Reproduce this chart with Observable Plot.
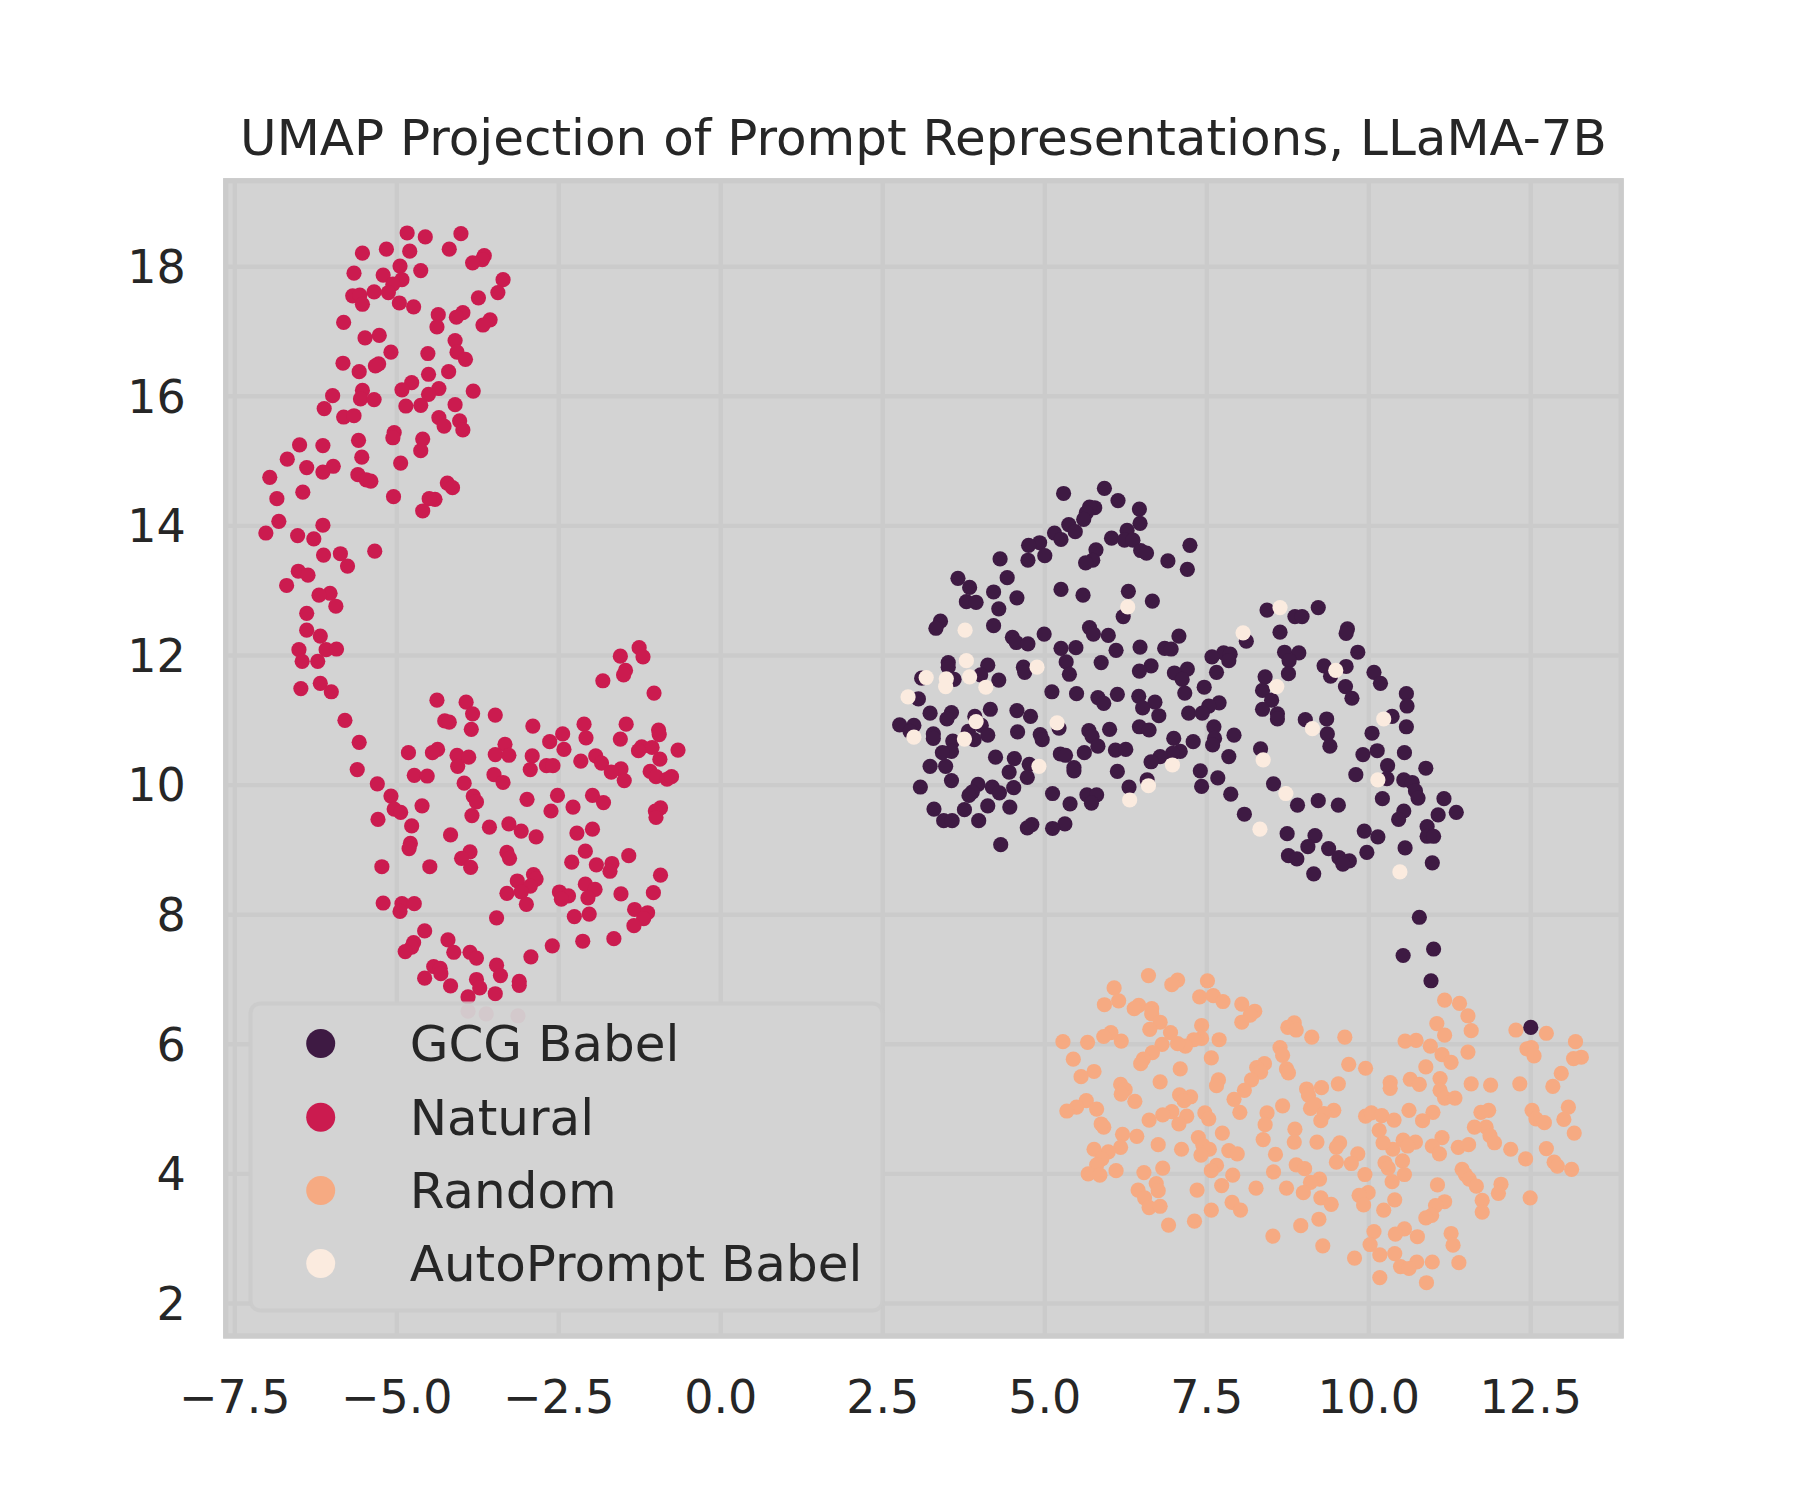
<!DOCTYPE html>
<html>
<head>
<meta charset="utf-8">
<script src="https://cdn.jsdelivr.net/npm/d3@7"></script>
<script src="https://cdn.jsdelivr.net/npm/@observablehq/plot@0.6"></script>
<style>html,body{margin:0;padding:0;background:#fff}svg{display:block}</style>
</head>
<body>
<div id="chart"></div>
<script>
const titleText = "UMAP Projection of Prompt Representations, LLaMA-7B";
const labels = ["GCG Babel", "Natural", "Random", "AutoPrompt Babel"];
const colors = ["#3e1a43", "#cb1b4f", "#f6aa82", "#fbebdf"];
const xTicks = [-7.5, -5, -2.5, 0, 2.5, 5, 7.5, 10, 12.5];
const yTicks = [2, 4, 6, 8, 10, 12, 14, 16, 18];

const natural = [[-4.84,18.52],[-4.56,18.46],[-4.01,18.51],[-5.53,18.21],[-5.16,18.27],[-4.80,18.24],[-4.19,18.27],[-3.65,18.17],[-3.68,18.11],[-3.83,18.06],[-4.95,18.01],[-4.63,17.94],[-5.66,17.90],[-5.21,17.87],[-4.92,17.80],[-3.36,17.80],[-5.06,17.73],[-3.44,17.60],[-3.74,17.52],[-5.68,17.55],[-5.57,17.56],[-5.35,17.61],[-5.13,17.60],[-5.53,17.42],[-4.96,17.44],[-4.74,17.38],[-4.36,17.26],[-3.98,17.29],[-4.08,17.22],[-4.38,17.07],[-3.56,17.18],[-3.67,17.10],[-5.82,17.14],[-5.27,16.94],[-5.49,16.90],[-4.10,16.86],[-4.07,16.68],[-3.94,16.57],[-5.09,16.68],[-4.52,16.66],[-5.83,16.51],[-5.28,16.50],[-5.33,16.47],[-5.58,16.38],[-4.20,16.38],[-4.51,16.34],[-4.77,16.21],[-4.92,16.10],[-4.35,16.12],[-4.51,16.03],[-3.82,16.08],[-5.53,16.09],[-5.99,16.01],[-5.56,15.96],[-5.35,15.95],[-4.86,15.85],[-4.63,15.86],[-4.10,15.87],[-6.12,15.81],[-5.82,15.68],[-5.66,15.70],[-4.35,15.67],[-4.03,15.62],[-4.27,15.54],[-3.98,15.48],[-5.04,15.44],[-5.06,15.36],[-4.60,15.34],[-4.63,15.16],[-5.59,15.32],[-6.50,15.25],[-6.14,15.24],[-6.69,15.03],[-5.54,15.06],[-4.94,14.97],[-6.39,14.90],[-5.98,14.92],[-6.14,14.83],[-6.96,14.75],[-5.60,14.79],[-5.47,14.71],[-5.40,14.69],[-4.22,14.66],[-4.14,14.59],[-6.45,14.52],[-6.85,14.42],[-5.05,14.45],[-4.41,14.41],[-4.50,14.42],[-4.60,14.23],[-6.82,14.07],[-6.14,14.01],[-7.02,13.89],[-6.53,13.85],[-6.28,13.80],[-6.13,13.55],[-5.87,13.57],[-5.34,13.61],[-5.76,13.38],[-6.52,13.30],[-6.37,13.24],[-6.70,13.08],[-6.03,12.96],[-6.20,12.93],[-5.94,12.76],[-6.39,12.65],[-6.39,12.39],[-6.18,12.30],[-6.51,12.09],[-6.09,12.09],[-5.93,12.10],[-6.46,11.91],[-6.22,11.91],[-6.48,11.49],[-6.18,11.57],[-6.01,11.44],[-5.80,11.00],[-5.58,10.66],[-5.61,10.24],[-5.30,10.02],[-5.09,9.83],[-5.04,9.63],[-4.94,9.58],[-5.29,9.47],[-4.61,9.68],[-4.77,9.37],[-4.79,9.10],[-4.81,9.02],[-5.23,8.74],[-4.49,8.74],[-5.21,8.18],[-4.92,8.17],[-4.73,8.17],[-4.95,8.05],[-4.57,7.75],[-4.74,7.57],[-4.77,7.50],[-4.87,7.43],[-4.21,7.61],[-4.12,7.42],[-3.87,7.42],[-3.77,7.33],[-4.43,7.20],[-4.33,7.17],[-4.32,7.09],[-4.57,7.02],[-4.17,6.90],[-3.46,7.22],[-3.40,7.06],[-3.77,7.00],[-3.72,6.87],[-3.11,6.97],[-3.11,6.91],[-3.48,6.78],[-3.90,6.73],[-2.93,7.35],[-2.60,7.52],[-2.13,7.59],[-1.65,7.63],[-1.26,12.12],[-1.55,11.99],[-1.20,11.98],[-1.47,11.77],[-1.50,11.70],[-1.82,11.61],[-1.03,11.42],[-4.38,11.31],[-3.93,11.28],[-3.83,11.10],[-3.48,11.08],[-4.26,10.99],[-4.19,10.97],[-3.85,10.86],[-2.90,10.91],[-2.11,10.94],[-1.46,10.94],[-0.96,10.85],[-0.95,10.78],[-2.44,10.79],[-2.08,10.73],[-1.55,10.71],[-2.64,10.67],[-2.42,10.55],[-3.33,10.63],[-1.22,10.59],[-1.06,10.58],[-1.27,10.53],[-0.66,10.54],[-4.82,10.50],[-4.37,10.55],[-4.45,10.50],[-4.07,10.46],[-3.89,10.43],[-3.48,10.47],[-3.27,10.46],[-2.91,10.45],[-1.93,10.45],[-0.94,10.40],[-2.16,10.37],[-1.84,10.34],[-4.06,10.29],[-2.69,10.30],[-2.59,10.30],[-2.94,10.24],[-1.54,10.25],[-1.69,10.20],[-1.09,10.21],[-1.49,10.07],[-1.00,10.13],[-0.83,10.09],[-0.76,10.13],[-4.73,10.15],[-4.53,10.14],[-3.50,10.16],[-3.36,10.04],[-3.96,10.03],[-3.82,9.83],[-3.77,9.74],[-2.99,9.78],[-2.52,9.84],[-1.98,9.84],[-1.81,9.73],[-2.28,9.66],[-2.62,9.60],[-0.93,9.65],[-1.01,9.60],[-1.00,9.50],[-3.84,9.53],[-3.57,9.35],[-3.27,9.40],[-3.08,9.29],[-2.85,9.20],[-1.98,9.32],[-2.22,9.26],[-4.17,9.23],[-3.30,8.96],[-3.26,8.87],[-3.87,8.97],[-4.00,8.87],[-3.86,8.73],[-2.09,8.98],[-2.30,8.81],[-1.42,8.91],[-1.92,8.77],[-1.68,8.79],[-1.71,8.67],[-0.93,8.61],[-2.89,8.62],[-2.85,8.55],[-3.14,8.52],[-2.94,8.44],[-2.09,8.47],[-1.94,8.39],[-3.30,8.33],[-3.08,8.35],[-2.49,8.35],[-2.35,8.29],[-2.46,8.24],[-2.05,8.26],[-1.54,8.32],[-1.04,8.34],[-3.00,8.16],[-1.33,8.08],[-1.13,8.03],[-1.19,7.94],[-2.26,7.97],[-2.03,8.01],[-3.46,7.95],[-1.34,7.83],[-3.90,6.51],[-3.62,6.47],[-3.13,6.44]];

const random = [[6.60,7.06],[7.05,6.99],[6.96,6.92],[7.51,6.98],[6.07,6.87],[6.14,6.67],[5.92,6.61],[6.45,6.60],[6.38,6.55],[6.65,6.55],[6.65,6.47],[7.39,6.73],[7.60,6.75],[7.75,6.66],[8.04,6.62],[8.24,6.51],[8.17,6.45],[8.04,6.34],[6.78,6.34],[6.62,6.23],[7.42,6.29],[8.85,6.33],[8.75,6.26],[8.88,6.22],[9.12,6.11],[9.63,6.11],[11.17,6.68],[11.40,6.63],[11.53,6.44],[11.05,6.32],[11.17,6.14],[11.58,6.21],[12.27,6.22],[12.74,6.17],[10.56,6.05],[10.73,6.06],[10.95,5.97],[11.53,5.88],[11.13,5.84],[11.27,5.72],[10.88,5.65],[13.19,6.04],[12.51,5.95],[12.44,5.93],[12.55,5.82],[13.28,5.80],[13.16,5.78],[12.97,5.55],[12.84,5.35],[12.33,5.39],[11.88,5.37],[11.58,5.39],[11.10,5.47],[11.10,5.29],[11.17,5.17],[11.33,5.17],[10.64,5.46],[10.78,5.38],[10.33,5.41],[10.33,5.32],[9.95,5.63],[9.69,5.69],[9.53,5.39],[9.27,5.33],[9.04,5.31],[9.07,5.21],[8.63,5.95],[8.67,5.83],[8.73,5.62],[8.76,5.56],[8.39,5.70],[8.27,5.64],[8.33,5.57],[8.19,5.45],[8.08,5.29],[7.92,5.15],[7.68,5.45],[7.65,5.36],[7.57,5.79],[7.69,6.07],[7.42,6.09],[7.30,6.07],[7.17,5.97],[7.05,6.01],[6.94,6.18],[6.81,6.00],[6.66,5.87],[6.52,5.77],[6.48,5.70],[6.18,6.05],[6.02,6.18],[5.91,6.12],[5.66,6.03],[5.28,6.04],[5.44,5.77],[5.76,5.58],[5.56,5.50],[6.17,5.38],[6.24,5.30],[6.18,5.23],[6.39,5.12],[6.78,5.42],[7.09,5.62],[7.08,5.22],[7.25,5.19],[7.15,5.13],[5.64,5.13],[5.49,5.03],[5.34,4.97],[5.80,5.00],[6.96,4.96],[6.82,4.91],[7.19,4.89],[7.47,4.94],[7.53,4.85],[8.01,4.95],[8.43,4.94],[8.67,5.05],[9.10,5.01],[9.17,5.07],[9.46,4.98],[9.31,4.93],[9.26,4.82],[8.40,4.76],[8.86,4.69],[9.95,4.89],[10.04,4.94],[10.20,4.90],[10.39,4.83],[10.62,4.98],[10.99,4.95],[10.83,4.82],[11.73,4.95],[11.85,4.98],[11.81,4.72],[11.63,4.72],[12.52,4.98],[12.58,4.85],[12.71,4.79],[13.08,5.03],[13.01,4.84],[13.17,4.63],[11.87,4.59],[11.94,4.48],[12.19,4.38],[12.74,4.39],[12.42,4.23],[12.86,4.18],[12.91,4.12],[13.13,4.07],[11.13,4.56],[10.98,4.43],[11.09,4.31],[11.38,4.41],[11.54,4.45],[10.72,4.49],[10.53,4.52],[10.60,4.43],[10.37,4.38],[10.22,4.48],[10.16,4.67],[9.83,4.31],[9.55,4.48],[9.50,4.41],[9.20,4.49],[8.85,4.49],[8.37,4.53],[8.56,4.30],[7.74,4.63],[7.37,4.56],[7.44,4.44],[7.54,4.38],[7.41,4.29],[7.84,4.36],[7.97,4.31],[7.11,4.38],[6.75,4.45],[6.61,4.83],[7.07,4.77],[6.42,4.58],[6.20,4.61],[6.17,4.41],[5.98,4.34],[5.76,4.38],[5.91,4.72],[5.87,4.77],[5.88,4.23],[5.80,4.14],[5.67,4.00],[5.85,3.98],[6.10,4.05],[6.53,4.02],[6.82,4.09],[6.72,3.85],[6.75,3.74],[6.44,3.75],[6.54,3.63],[6.61,3.48],[6.78,3.50],[6.91,3.21],[7.31,3.27],[7.57,3.44],[7.35,3.75],[7.73,3.82],[7.90,3.98],[7.65,4.13],[7.57,4.05],[7.89,3.56],[8.02,3.44],[8.26,3.78],[8.73,3.78],[8.53,4.03],[8.88,4.14],[9.01,4.08],[9.24,3.92],[9.10,3.87],[8.99,3.71],[9.26,3.63],[9.42,3.53],[9.23,3.30],[8.95,3.20],[8.52,3.04],[9.29,2.89],[9.50,4.18],[9.73,4.16],[9.94,3.99],[10.25,4.17],[10.30,4.09],[10.52,4.20],[10.55,3.99],[10.36,3.88],[9.99,3.71],[9.85,3.67],[9.92,3.52],[10.40,3.60],[10.23,3.44],[11.44,4.07],[11.49,3.99],[11.55,3.92],[11.66,3.81],[11.06,3.83],[12.04,3.84],[12.00,3.70],[12.49,3.63],[11.75,3.59],[11.75,3.41],[11.17,3.57],[11.03,3.51],[10.97,3.36],[10.88,3.32],[10.08,3.11],[10.55,3.15],[10.41,3.07],[10.75,3.03],[11.27,3.08],[11.30,2.90],[10.02,2.91],[10.17,2.75],[10.40,2.77],[9.78,2.70],[10.74,2.64],[10.49,2.57],[10.62,2.54],[10.98,2.64],[11.39,2.63],[10.17,2.40],[10.89,2.32]];

const gcg = [[5.29,14.50],[5.92,14.58],[6.13,14.39],[6.46,14.26],[6.47,14.04],[5.77,14.28],[5.69,14.29],[5.64,14.20],[5.60,14.10],[5.37,14.02],[5.47,13.91],[5.15,13.89],[5.25,13.79],[6.27,13.93],[6.03,13.81],[6.23,13.78],[6.36,13.78],[6.48,13.62],[6.57,13.58],[7.24,13.70],[4.92,13.74],[4.75,13.70],[5.00,13.54],[4.74,13.47],[4.31,13.49],[5.79,13.63],[5.74,13.47],[5.63,13.43],[6.90,13.46],[7.20,13.33],[3.66,13.19],[4.42,13.20],[3.84,13.05],[4.21,12.98],[5.25,13.02],[5.59,12.93],[6.29,12.99],[4.57,12.89],[3.79,12.83],[3.94,12.82],[6.66,12.84],[4.29,12.72],[6.21,12.60],[3.39,12.53],[3.32,12.42],[4.21,12.46],[5.69,12.43],[5.75,12.33],[4.99,12.33],[5.98,12.31],[7.07,12.30],[4.50,12.28],[4.56,12.20],[4.74,12.18],[5.25,12.11],[5.48,12.12],[6.10,12.08],[6.47,12.13],[6.85,12.11],[6.95,12.10],[8.11,12.22],[7.76,12.04],[7.86,12.02],[7.58,11.98],[7.84,11.92],[3.51,11.89],[5.33,11.90],[5.87,11.89],[4.12,11.85],[3.51,11.82],[6.64,11.84],[7.20,11.79],[6.46,11.76],[4.67,11.82],[4.69,11.74],[5.38,11.71],[7.00,11.73],[7.65,11.74],[4.01,11.70],[3.10,11.65],[3.60,11.63],[4.29,11.62],[7.12,11.63],[3.05,11.33],[5.11,11.44],[5.49,11.41],[7.16,11.42],[7.46,11.51],[5.82,11.35],[6.12,11.40],[6.45,11.37],[5.91,11.26],[6.70,11.28],[7.69,11.27],[7.53,11.22],[6.51,11.19],[4.16,11.17],[3.23,11.11],[3.56,11.12],[3.49,11.02],[4.57,11.15],[4.78,11.06],[6.76,11.07],[7.22,11.11],[7.43,11.11],[3.92,11.06],[2.76,10.93],[2.98,10.92],[5.22,10.88],[2.92,10.83],[4.02,10.92],[4.58,10.82],[4.93,10.78],[4.96,10.70],[5.68,10.84],[6.00,10.86],[6.46,10.90],[6.61,10.85],[7.61,10.90],[3.28,10.79],[3.28,10.72],[3.82,10.83],[4.12,10.77],[5.73,10.75],[7.92,10.77],[6.99,10.72],[7.62,10.72],[3.91,10.70],[3.58,10.68],[7.29,10.67],[5.82,10.60],[7.59,10.62],[6.09,10.54],[6.25,10.55],[3.56,10.52],[3.42,10.50],[5.24,10.48],[5.32,10.46],[5.61,10.50],[7.09,10.52],[6.97,10.49],[4.24,10.43],[4.53,10.41],[6.78,10.44],[7.84,10.44],[6.64,10.36],[3.23,10.29],[3.47,10.29],[4.76,10.32],[5.45,10.27],[5.45,10.22],[4.45,10.20],[6.12,10.21],[7.40,10.22],[4.73,10.12],[3.56,10.07],[6.58,10.08],[7.67,10.11],[3.08,9.97],[3.97,10.01],[4.19,9.97],[4.52,9.96],[6.30,9.97],[7.42,9.98],[3.88,9.89],[4.30,9.88],[3.83,9.84],[5.12,9.87],[5.65,9.85],[5.80,9.85],[7.87,9.86],[5.72,9.72],[5.39,9.71],[4.12,9.68],[4.46,9.66],[3.29,9.63],[3.76,9.62],[8.08,9.55],[3.44,9.45],[3.57,9.45],[3.98,9.45],[4.80,9.39],[4.73,9.34],[5.31,9.40],[5.12,9.33],[4.32,9.08],[8.43,12.70],[9.22,12.74],[8.86,12.60],[8.97,12.60],[9.67,12.41],[9.65,12.34],[8.63,12.36],[9.83,12.05],[8.70,12.05],[8.92,12.04],[8.77,11.92],[9.31,11.84],[9.65,11.83],[9.41,11.68],[10.08,11.74],[8.76,11.72],[8.40,11.67],[10.18,11.57],[9.64,11.52],[8.36,11.46],[10.58,11.41],[9.74,11.34],[8.50,11.31],[10.59,11.22],[8.36,11.17],[8.59,11.10],[8.59,11.02],[10.36,11.06],[9.02,11.01],[9.35,11.02],[10.58,10.90],[9.36,10.79],[10.05,10.80],[9.40,10.60],[10.13,10.53],[10.55,10.50],[9.91,10.47],[8.33,10.56],[10.29,10.30],[10.88,10.26],[9.80,10.16],[10.28,10.10],[10.54,10.08],[10.67,10.04],[8.53,10.02],[10.72,9.91],[10.76,9.80],[10.21,9.79],[11.16,9.79],[9.22,9.76],[8.90,9.69],[9.53,9.69],[10.54,9.60],[11.35,9.58],[11.07,9.54],[10.46,9.47],[10.90,9.36],[9.93,9.29],[8.74,9.25],[9.17,9.22],[10.14,9.20],[10.90,9.21],[11.00,9.21],[9.06,9.05],[9.38,9.02],[10.56,9.03],[9.97,8.96],[8.76,8.91],[8.89,8.86],[9.54,8.88],[9.70,8.83],[9.60,8.78],[10.98,8.80],[9.15,8.63],[10.78,7.96],[11.00,7.47],[10.53,7.37],[10.96,6.98],[12.50,6.26]];

const autoprompt = [[6.28,12.75],[3.77,12.39],[8.06,12.35],[3.79,11.92],[4.88,11.82],[3.17,11.66],[3.48,11.64],[3.84,11.67],[3.47,11.52],[4.09,11.51],[2.89,11.36],[3.94,10.98],[5.19,10.96],[2.98,10.74],[3.76,10.71],[4.91,10.29],[6.97,10.31],[6.60,9.99],[6.31,9.77],[8.63,12.74],[9.49,11.77],[8.58,11.52],[10.23,11.02],[9.13,10.87],[8.37,10.39],[10.14,10.08],[8.72,9.87],[8.32,9.32],[10.48,8.66]];

const ink = "#262626";
const panelFill = "#d3d3d3";
const edge = "#cbcbcb";
const font = "DejaVu Sans";
const dotX = d => d[0], dotY = d => d[1];

// legend rows, offset from the panel's top-left corner
const legendRowTop = [862.8, 936.5, 1009.8, 1082.8];

const legendMarks = labels.flatMap((label, i) => [
  Plot.dot([label], {frameAnchor: "top-left", dx: 95, dy: legendRowTop[i], r: 14.5, fill: colors[i]}),
  Plot.text([label], {text: d => d, frameAnchor: "top-left", dx: 184, dy: legendRowTop[i] + 1.5, textAnchor: "start", lineAnchor: "middle", fontSize: 50, fill: ink})
]);

const chart = Plot.plot({
  width: 1800,
  height: 1500,
  marginLeft: 225.2,
  marginRight: 179.3,
  marginTop: 180.2,
  marginBottom: 164.5,
  style: {fontFamily: font, background: "#ffffff", overflow: "visible"},
  x: {domain: [-7.64, 13.895]},
  y: {domain: [1.498, 19.327]},
  marks: [
    Plot.frame({fill: panelFill, stroke: edge, strokeWidth: 5}),
    Plot.ruleX(xTicks, {stroke: edge, strokeWidth: 4.4}),
    Plot.ruleY(yTicks, {stroke: edge, strokeWidth: 4.4}),
    Plot.frame({stroke: edge, strokeWidth: 5}),
    Plot.dot(natural, {x: dotX, y: dotY, r: 7.6, fill: colors[1]}),
    Plot.dot(random, {x: dotX, y: dotY, r: 7.6, fill: colors[2]}),
    Plot.dot(gcg, {x: dotX, y: dotY, r: 7.6, fill: colors[0]}),
    Plot.dot(autoprompt, {x: dotX, y: dotY, r: 7.6, fill: colors[3]}),
    Plot.axisX({ticks: xTicks, tickSize: 0, tickPadding: 44, fontSize: 46, fill: ink, label: null, tickFormat: d3.format(".1f")}),
    Plot.axisY({ticks: yTicks, tickSize: 0, tickPadding: 40, fontSize: 46, fill: ink, label: null, dy: 1.5}),
    Plot.frame({insetLeft: 24.8, insetTop: 822.8, insetRight: 738.7, insetBottom: 25.5, rx: 10, fill: panelFill, fillOpacity: 0.95, stroke: edge, strokeOpacity: 0.8, strokeWidth: 4}),
    ...legendMarks,
    Plot.text([titleText], {text: d => d, frameAnchor: "top", dy: -41.7, lineAnchor: "middle", fontSize: 50, fill: ink})
  ]
});
document.getElementById("chart").appendChild(chart);
</script>
</body>
</html>
